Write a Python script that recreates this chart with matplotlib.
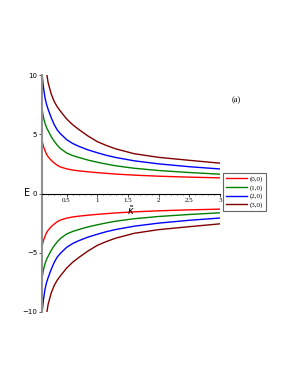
import numpy as np
import matplotlib
matplotlib.use('Agg')
import matplotlib.pyplot as plt
from matplotlib.ticker import MultipleLocator

# values, upper branch; the lower branch is its mirror
KAPPA = [0.1, 0.125, 0.15, 0.175, 0.2, 0.25, 0.3, 0.35, 0.4, 0.5, 0.6, 0.7,
         0.85, 1.0, 1.15, 1.3, 1.6, 2.0, 2.5, 3.0]
E_00 = [4.45, 3.95, 3.6, 3.3, 3.1, 2.8, 2.57, 2.38, 2.24, 2.08, 1.98, 1.91,
        1.83, 1.76, 1.70, 1.64, 1.55, 1.46, 1.38, 1.32]
E_10 = [7.15, 6.4, 5.9, 5.55, 5.3, 4.8, 4.4, 4.07, 3.8, 3.42, 3.2, 3.04,
        2.82, 2.64, 2.48, 2.34, 2.13, 1.94, 1.77, 1.63]
E_20 = [10.1, 8.9, 8.05, 7.5, 7.1, 6.4, 5.8, 5.35, 5.05, 4.55, 4.22, 3.98,
        3.68, 3.44, 3.22, 3.04, 2.76, 2.5, 2.26, 2.07]
KAPPA_30 = [0.16, 0.18, 0.2, 0.25, 0.3, 0.35, 0.4, 0.5, 0.6, 0.7, 0.85, 1.0,
            1.15, 1.3, 1.6, 2.0, 2.5, 3.0]
E_30 = [10.8, 10.0, 9.35, 8.4, 7.75, 7.3, 6.95, 6.3, 5.8, 5.4, 4.85, 4.38,
        4.05, 3.77, 3.36, 3.05, 2.8, 2.56]

LABELS = ['(0,0)', '(1,0)', '(2,0)', '(3,0)']
COLORS = ['#ff0000', '#008000', '#0000ff', '#800000']

if __name__ == '__main__':

    fig = plt.figure(figsize=(2.91, 3.76), dpi=100)
    ax = fig.add_axes([42 / 291, 1 - 312 / 376, 178 / 291, 237 / 376])

    series = [(KAPPA, E_00), (KAPPA, E_10), (KAPPA, E_20), (KAPPA_30, E_30)]
    for (k, e), lab, col in zip(series, LABELS, COLORS):
        e = np.array(e)
        ax.plot(k, e, color=col, lw=1.0, label=lab)
        ax.plot(k, -e, color=col, lw=1.0)

    ax.set_xlim(0.1, 3)
    ax.set_ylim(-10, 10)

    ax.spines['top'].set_visible(False)
    ax.spines['right'].set_visible(False)
    ax.spines['bottom'].set_position(('data', 0))
    ax.spines['bottom'].set_linewidth(0.8)
    ax.spines['left'].set_color('#909090')
    ax.spines['left'].set_linewidth(1.5)

    ax.set_xticks([0.5, 1, 1.5, 2, 2.5, 3])
    ax.set_xticklabels(['0.5', '1', '1.5', '2', '2.5', '3'], family='Liberation Serif')
    ax.xaxis.set_minor_locator(MultipleLocator(0.1))
    ax.set_yticks([-10, -5, 0, 5, 10])
    ax.tick_params(axis='both', labelsize=5, length=2, width=0.5, pad=1.5)
    ax.tick_params(axis='x', which='minor', length=1, width=0.4)

    ax.text(-0.065, 0.5, 'E', transform=ax.transAxes, fontsize=7,
            ha='right', va='center')
    ax.text(1.55, -1.45, r'$\tilde{\kappa}$', fontsize=7, ha='center', va='center')
    ax.text(1.09, 0.895, '(a)', transform=ax.transAxes, fontsize=6,
            ha='center', va='center', family='Liberation Serif')

    leg = fig.legend(loc='upper left', bbox_to_anchor=(223 / 291, 1 - 173 / 376),
                     fontsize=5, frameon=True, fancybox=False, edgecolor='#404040',
                     handlelength=3, handletextpad=0.5, borderpad=0.4,
                     labelspacing=0.35, borderaxespad=0)
    leg.get_frame().set_linewidth(0.8)
    for t in leg.get_texts():
        t.set_family('Liberation Serif')

    plt.savefig('out.png', dpi=100)
